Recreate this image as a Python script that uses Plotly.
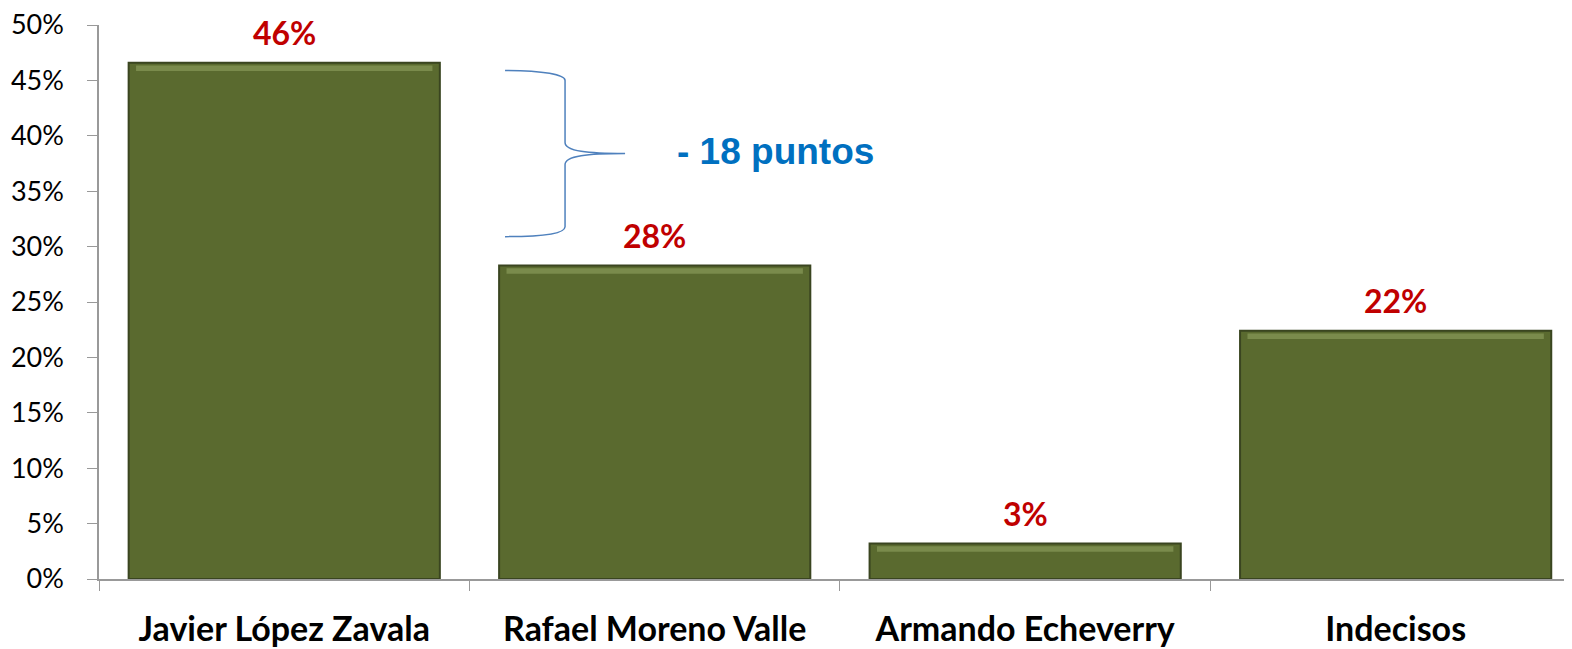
import plotly.graph_objects as go

# Vote intention per candidate
candidates = ["Javier López Zavala", "Rafael Moreno Valle", "Armando Echeverry", "Indecisos"]
shares = [46.6, 28.3, 3.2, 22.4]
share_labels = ["46%", "28%", "3%", "22%"]
y_ticks = [0, 5, 10, 15, 20, 25, 30, 35, 40, 45, 50]
gap_note = "- 18 puntos"

fig = go.Figure()

fig.add_trace(go.Bar(
    x=candidates,
    y=shares,
    width=0.84,
    marker=dict(color="#5A6A2F", line=dict(color="#3A4520", width=2)),
    hoverinfo="skip",
))
# light bevel strip on top of each bar
fig.add_trace(go.Bar(
    x=candidates,
    y=[0.5] * len(shares),
    base=[v - 0.75 for v in shares],
    width=0.80,
    marker=dict(color="#7A8B4C", line=dict(width=0)),
    hoverinfo="skip",
))

# data labels above each bar
for c, v, lab in zip(candidates, shares, share_labels):
    fig.add_annotation(
        x=c, y=v, text=lab, showarrow=False, yshift=30,
        font=dict(family="Lato", size=32, color="#C00000", weight="bold"),
    )

# curly brace between first two bars
brace = ("M 0.596,45.9 C 0.70,45.9 0.758,45.5 0.758,45.0 "
         "L 0.758,39.4 C 0.758,38.6 0.82,38.4 0.920,38.4 "
         "C 0.82,38.4 0.758,38.2 0.758,37.4 "
         "L 0.758,31.8 C 0.758,31.2 0.70,30.9 0.596,30.9")
fig.add_shape(type="path", path=brace, xref="x", yref="y",
              line=dict(color="#4F81BD", width=1.5))
fig.add_annotation(
    x=1.325, y=38.6, text=gap_note, showarrow=False, xanchor="center",
    font=dict(family="Liberation Sans", size=37, color="#0070C0", weight="bold"),
)

# the page body has an 8px margin, so the figure is sized to fit inside it
fig.update_layout(
    width=1564, height=641,
    margin=dict(l=91, r=0, t=17, b=70),
    plot_bgcolor="white", paper_bgcolor="white",
    showlegend=False, barmode="overlay",
    font=dict(family="Lato", color="black"),
)

fig.update_xaxes(
    type="category", range=[-0.5, 3.476],
    tickson="boundaries", ticks="outside", ticklen=10, tickcolor="#999999",
    showline=True, linecolor="#999999", linewidth=1.5,
    showgrid=False, zeroline=False, automargin=False,
    tickfont=dict(family="Lato", size=34, color="black", weight="bold"),
    ticklabelstandoff=19, ticklabeloverflow="allow",
)
fig.update_yaxes(
    range=[0, 50],
    tickvals=y_ticks, ticktext=[f"{t}%" for t in y_ticks],
    ticks="outside", ticklen=10, tickcolor="#999999",
    showline=True, linecolor="#999999", linewidth=1.5,
    showgrid=False, zeroline=False, automargin=False,
    tickfont=dict(family="Lato", size=27, color="black"),
    ticklabelstandoff=18, ticklabeloverflow="allow",
)

fig.write_html("out.html")
